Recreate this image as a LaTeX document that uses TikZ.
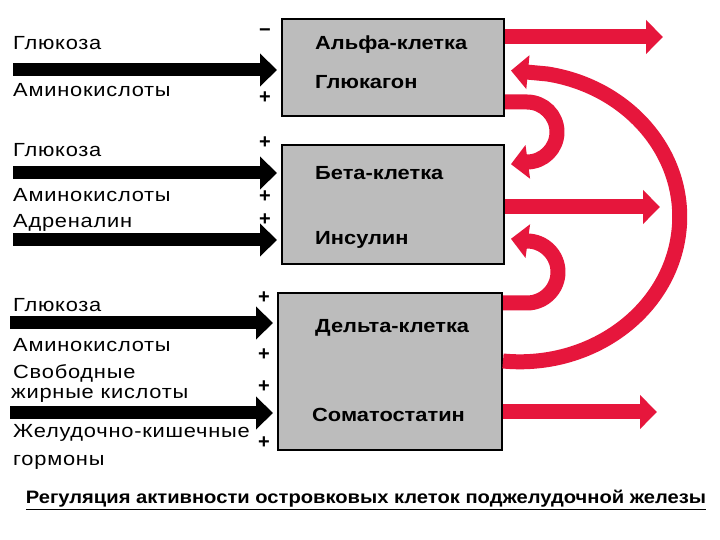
\documentclass[tikz,border=0pt]{standalone}
\usepackage{fontspec}
\setmainfont{Liberation Sans}
\newfontfamily\lblfont[FakeStretch=1.15,LetterSpace=4]{Liberation Sans}
\newfontfamily\cellfont[FakeStretch=1.15]{Liberation Sans}
\newfontfamily\capfont[FakeStretch=1.12]{Liberation Sans}
\usetikzlibrary{arrows.meta}
\definecolor{myred}{RGB}{230,22,60}
\definecolor{boxgray}{RGB}{188,188,188}
\begin{document}
\begin{tikzpicture}[x=1pt,y=1pt,
  cell/.style={draw=black,line width=2pt,fill=boxgray,minimum width=222pt,inner sep=0pt},
  celltxt/.style={anchor=west,inner sep=0pt,font=\cellfont\bfseries\fontsize{19}{21}\selectfont},
  lbl/.style={anchor=west,inner sep=0pt,font=\lblfont\fontsize{19}{21}\selectfont},
  sign/.style={inner sep=0pt,font=\bfseries\fontsize{20}{22}\selectfont},
  blackarrow/.style={line width=13pt,-{Triangle[length=17pt,width=32pt]},shorten >=4pt},
  redarrow/.style={line width=15pt,myred,line join=round,-{Triangle[length=17pt,width=33pt]}},
  caption/.style={inner sep=0pt,font=\capfont\bfseries\fontsize{18}{20}\selectfont}
]
\useasboundingbox (0,0) rectangle (720,540);
\fill[white] (0,0) rectangle (720,540);

% cells
\node[cell,minimum height=97pt] (alpha) at (393,472.5) {};
\node[cell,minimum height=119pt] (beta) at (393,335.5) {};
\node[cell,minimum width=224pt,minimum height=157pt] (delta) at (390,168.5) {};

\node[celltxt] (alphaname) at (315,495) {Альфа-клетка};
\node[celltxt] (glucagon) at (315,458) {Глюкагон};
\node[celltxt] (betaname) at (315,367) {Бета-клетка};
\node[celltxt] (insulin) at (315,300) {Инсулин};
\node[celltxt] (deltaname) at (315,212) {Дельта-клетка};
\node[celltxt] (somato) at (312,125) {Соматостатин};

% left labels
\node[lbl] (l1) at (13,497) {Глюкоза};
\node[lbl] (l2) at (13,450) {Аминокислоты};
\node[lbl] (l3) at (13,390) {Глюкоза};
\node[lbl] (l4) at (13,345) {Аминокислоты};
\node[lbl] (l5) at (13,317) {Адреналин};
\node[lbl] (l6) at (13,235) {Глюкоза};
\node[lbl] (l7) at (13,195) {Аминокислоты};
\node[lbl] (l8) at (13,167) {Свободные};
\node[lbl] (l9) at (11,145) {жирные кислоты};
\node[lbl] (l10) at (13,107) {Желудочно-кишечные};
\node[lbl] (l11) at (13,78) {гормоны};

% signs
\node[sign] (s1) at (265,507) {−};
\node[sign] (s2) at (265,442) {+};
\node[sign] (s3) at (265,397) {+};
\node[sign] (s4) at (265,343) {+};
\node[sign] (s5) at (265,320) {+};
\node[sign] (s6) at (264,242) {+};
\node[sign] (s7) at (264,185) {+};
\node[sign] (s8) at (264,153) {+};
\node[sign] (s9) at (264,97) {+};

% black input arrows
\coordinate (b1) at (13,470);
\coordinate (b2) at (13,367);
\coordinate (b3) at (13,300);
\coordinate (b4) at (10,217);
\coordinate (b5) at (10,127);
\draw[blackarrow] (b1) -- (alpha.west |- b1);
\draw[blackarrow] (b2) -- (beta.west |- b2);
\draw[blackarrow] (b3) -- (beta.west |- b3);
\draw[blackarrow] (b4) -- (delta.west |- b4);
\draw[blackarrow] (b5) -- (delta.west |- b5);

% red output arrows
\coordinate (r1) at (663,503);
\coordinate (r2) at (660,333);
\coordinate (r3) at (657,128);
\draw[redarrow] (alpha.east |- r1) -- (r1);
\draw[redarrow] (beta.east |- r2) -- (r2);
\draw[redarrow] (delta.east |- r3) -- (r3);

% alpha -> beta
\draw[redarrow,shorten >=6pt] (alpha.east |- 0,438) -- (527,438)
  arc[start angle=90,end angle=-90,radius=30] -- (beta.east |- 0,375);
% delta -> beta (insulin)
\draw[redarrow,shorten >=6pt] (delta.east |- 0,237) -- (527,237)
  arc[start angle=-90,end angle=90,radius=31] -- (beta.east |- 0,302);
% delta -> alpha
\draw[redarrow,shorten >=6pt] (delta.east |- 0,179)
  arc[start angle=-96,end angle=80,x radius=160,y radius=145] -- (alpha.east |- 0,470);

% caption
\node[caption] (cap) at (366,40) {\underline{Регуляция активности островковых клеток поджелудочной железы}};
\end{tikzpicture}
\end{document}
